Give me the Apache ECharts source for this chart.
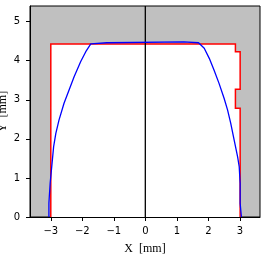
<!DOCTYPE html>
<html>
<head>
<meta charset="utf-8">
<script src="https://cdn.jsdelivr.net/npm/echarts@6/dist/echarts.min.js"></script>
<style>html,body{margin:0;padding:0;background:#fff}#c{width:265px;height:255px}</style>
</head>
<body>
<div id="c"></div>
<script>
var xTicks = [-3, -2, -1, 0, 1, 2, 3];
var yTicks = [0, 1, 2, 3, 4, 5];
var outlineX = [-3.0, -3.0, 2.86, 2.86, 3.01, 3.01, 2.86, 2.86, 3.01, 3.01];
var outlineY = [0, 4.43, 4.43, 4.23, 4.23, 3.27, 3.27, 2.78, 2.78, 0];
var curveX = [-3.06, -3.06, -3.02, -3.02, -2.98, -2.97, -2.91, -2.84, -2.74, -2.58, -2.42, -2.26, -2.05, -1.89, -1.73, -1.68, -1.22, -1.22, 1.22, 1.22, 1.69, 1.71, 1.87, 2.03, 2.18, 2.34, 2.50, 2.61, 2.71, 2.82, 2.93, 2.98, 3.01, 3.01, 3.05, 3.05];
var curveY = [0, 0.36, 0.36, 0.87, 0.87, 1.29, 1.80, 2.14, 2.48, 2.91, 3.25, 3.59, 3.98, 4.23, 4.43, 4.46, 4.46, 4.48, 4.48, 4.46, 4.46, 4.45, 4.32, 4.06, 3.76, 3.42, 3.04, 2.74, 2.40, 1.97, 1.54, 1.29, 0.86, 0.35, 0.35, 0];
var centerX = [0, 0];
var centerY = [0, 5.4];

function zip(a, b) { return a.map(function (v, i) { return [v, b[i]]; }); }
var outlinePts = zip(outlineX, outlineY);

var chart = echarts.init(document.getElementById('c'), null, {renderer: 'canvas'});
var labelFont = {color: '#000', fontFamily: 'DejaVu Sans', fontSize: 10};
chart.setOption({
  animation: false,
  grid: {left: 30, right: 5, top: 6, bottom: 38, containLabel: false, outerBoundsMode: 'none', show: true, backgroundColor: '#c0c0c0', borderColor: '#000', borderWidth: 1},
  xAxis: {
    type: 'value', min: -3.66, max: 3.64,
    name: 'X  [mm]', nameLocation: 'middle', nameGap: 26, nameMoveOverlap: false,
    nameTextStyle: {fontFamily: 'Liberation Serif', fontSize: 12, color: '#000'},
    axisLine: {show: true, onZero: false, lineStyle: {color: '#000', width: 1}},
    axisTick: {show: true, length: 4, lineStyle: {color: '#000'}, customValues: xTicks},
    axisLabel: Object.assign({margin: 9, customValues: xTicks, formatter: function (v) { return String(v).replace('-', '\u2212'); }}, labelFont),
    splitLine: {show: false}
  },
  yAxis: {
    type: 'value', min: 0, max: 5.4,
    name: 'Y  [mm]', nameLocation: 'middle', nameGap: 21, nameRotate: 90, nameMoveOverlap: false,
    nameTextStyle: {fontFamily: 'Liberation Serif', fontSize: 12, color: '#000'},
    axisLine: {show: true, onZero: false, lineStyle: {color: '#000', width: 1}},
    axisTick: {show: true, length: 4, lineStyle: {color: '#000'}, customValues: yTicks},
    axisLabel: Object.assign({margin: 10, customValues: yTicks}, labelFont),
    splitLine: {show: false}
  },
  series: [
    {
      type: 'custom', data: outlinePts, clip: true, z: 1,
      renderItem: function (params, api) {
        if (params.dataIndex !== 0) return null;
        var pts = outlinePts.map(function (p) { return api.coord(p); });
        return {
          type: 'group',
          children: [
            {type: 'polygon', shape: {points: pts}, style: {fill: '#fff', stroke: null}},
            {type: 'polyline', shape: {points: pts}, style: {fill: null, stroke: '#ff0000', lineWidth: 1.5}}
          ]
        };
      }
    },
    {
      type: 'line', data: zip(centerX, centerY), showSymbol: false, z: 3,
      lineStyle: {color: '#000', width: 1.3}
    },
    {
      type: 'line', data: zip(curveX, curveY), showSymbol: false, z: 4,
      lineStyle: {color: '#0000ff', width: 1.3}
    }
  ]
});
</script>
</body>
</html>
